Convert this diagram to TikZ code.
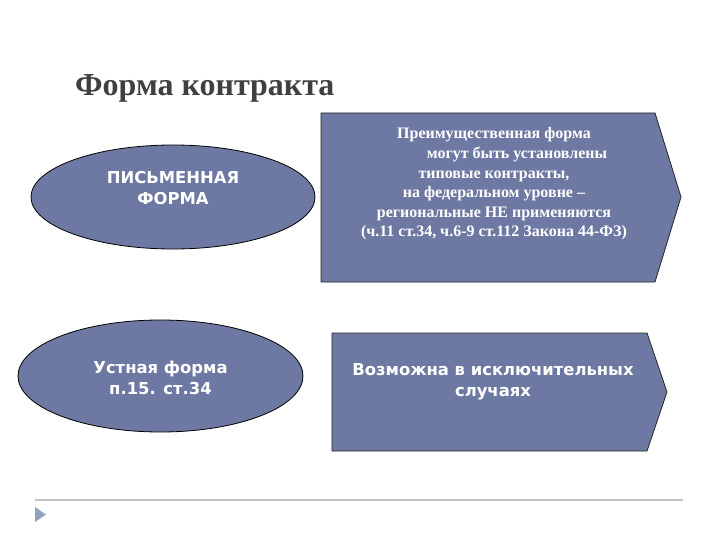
\documentclass[tikz,border=0pt]{standalone}
\usepackage{fontspec}
\setmainfont{Liberation Serif}
\newfontfamily\verd{DejaVu Sans}
\usetikzlibrary{shapes.geometric}
\definecolor{boxfill}{RGB}{110,121,163}
\definecolor{titlegray}{RGB}{64,64,64}
\definecolor{rulegray}{RGB}{192,196,201}
\definecolor{tribl}{RGB}{143,163,188}
\tikzset{
  ell/.style={ellipse, draw=black, line width=0.8pt, fill=boxfill, inner sep=0pt},
  pent/.style={draw=black!85, line width=0.8pt, fill=boxfill, line join=miter},
  etext/.style={text=white, align=center, font=\verd\bfseries\fontsize{16.4}{21}\selectfont},
  ptext/.style={text=white, align=center, font=\bfseries\fontsize{16}{19.6}\selectfont},
}
\begin{document}
\begin{tikzpicture}[x=1pt,y=-1pt]
\useasboundingbox (0,0) rectangle (720,540);
% title
\node[anchor=base west, inner sep=0pt, text=titlegray, font=\bfseries\fontsize{32}{36}\selectfont] (title) at (75,96) {Форма контракта};
% ellipses
\node[ell, minimum width=284pt, minimum height=104pt] (e1) at (173,197) {};
\node[etext] (t1) at (173,188) {ПИСЬМЕННАЯ\\ФОРМА};
\node[ell, minimum width=285pt, minimum height=112pt] (e2) at (160.5,376) {};
\node[etext] (t2) at (160.5,378) {Устная форма\\п.15. ст.34};
% arrows
\path[pent] (321,113) -- (655,113) -- (681,197) -- (655,282) -- (321,282) -- cycle;
\node[ptext] (a1) at (494,184) {Преимущественная форма\\\hspace*{46pt}могут быть установлены\\типовые контракты,\\на федеральном уровне --\\региональные НЕ применяются\\(ч.11 ст.34, ч.6-9 ст.112 Закона 44-ФЗ)};
\path[pent] (332,333) -- (647,333) -- (667,392) -- (647,451) -- (332,451) -- cycle;
\node[etext] (a2) at (493,381.5) {Возможна в исключительных\\случаях};
% footer
\draw[rulegray, line width=1.5pt] (35,500) -- (683,500);
\fill[tribl] (35,507) -- (46,514.5) -- (35,522) -- cycle;
\end{tikzpicture}
\end{document}
